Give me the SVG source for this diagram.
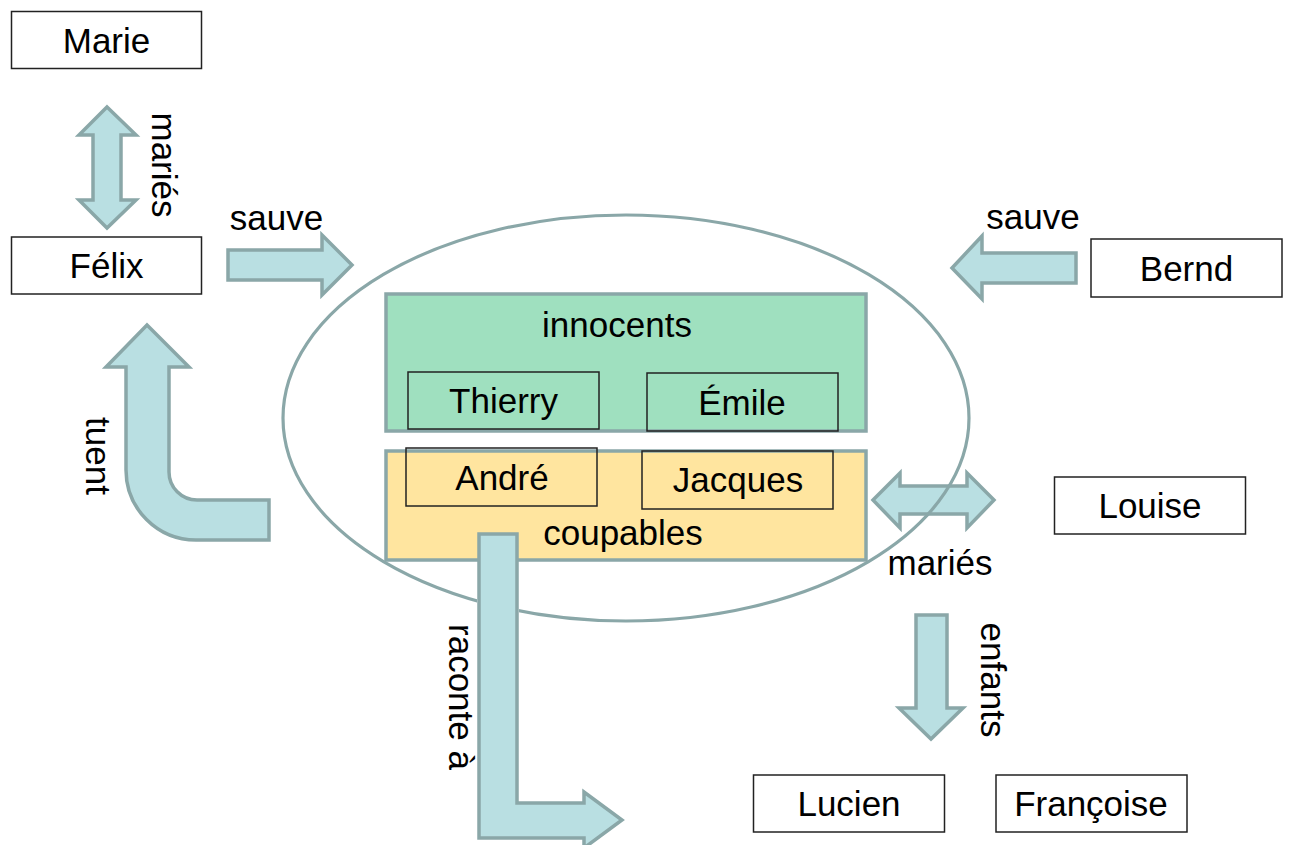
<svg xmlns="http://www.w3.org/2000/svg" width="1292" height="845" viewBox="0 0 1292 845">
<style>
text{font-family:"Liberation Sans",Arial,sans-serif;font-size:35px;fill:#000;text-anchor:middle}
.box{fill:#fff;stroke:#222;stroke-width:1.5}
.ibox{fill:none;stroke:#222;stroke-width:1.5}
.arr{fill:#b9dfe2;stroke:#8aa7a8;stroke-width:3.5;stroke-linejoin:miter}
.grp{stroke:#8aa7a8;stroke-width:3.5}
</style>
<defs>
<clipPath id="ellClip">
<rect x="0" y="0" width="477" height="845"/>
<rect x="519" y="0" width="773" height="845"/>
<rect x="0" y="0" width="1292" height="530"/>
</clipPath>
</defs>
<rect width="1292" height="845" fill="#fff"/>
<g id="innocents">
<rect class="grp" x="386" y="294" width="480" height="137" fill="#9fe0bf"/>
<text x="617" y="337">innocents</text>
</g>
<g id="coupables">
<rect class="grp" x="386" y="451" width="480" height="109" fill="#ffe59f"/>
<text x="623" y="545">coupables</text>
</g>
<g id="thierry"><rect class="ibox" x="408" y="372" width="191" height="57"/><text x="503.5" y="413">Thierry</text></g>
<g id="emile"><rect class="ibox" x="647" y="373" width="191" height="58"/><text x="742" y="414.5">Émile</text></g>
<g id="andre"><rect class="ibox" x="406" y="448" width="191" height="58"/><text x="502" y="489.5">André</text></g>
<g id="jacques"><rect class="ibox" x="642" y="451" width="191" height="58"/><text x="738" y="492">Jacques</text></g>
<g id="marie"><rect class="box" x="11.5" y="11.5" width="190" height="57"/><text x="106.5" y="52.5">Marie</text></g>
<g id="felix"><rect class="box" x="11.5" y="237" width="190" height="57"/><text x="106.5" y="277.5">Félix</text></g>
<g id="bernd"><rect class="box" x="1091" y="239" width="191" height="58"/><text x="1186.5" y="280.5">Bernd</text></g>
<g id="louise"><rect class="box" x="1054.5" y="477" width="191" height="57"/><text x="1150" y="518">Louise</text></g>
<g id="lucien"><rect class="box" x="753.5" y="775" width="191" height="57"/><text x="849" y="816">Lucien</text></g>
<g id="francoise"><rect class="box" x="996" y="775" width="191" height="57"/><text x="1091" y="816">Françoise</text></g>
<g id="connectors">
<path class="arr" d="M107,107 L136,135 L121,135 L121,200 L136,200 L107,228 L79,200 L93,200 L93,135 L79,135 Z"/>
<text transform="translate(152,165) rotate(90)" x="0" y="0">mariés</text>
<path class="arr" d="M228,250 L322,250 L322,235 L352,265 L322,295 L322,280 L228,280 Z"/>
<text x="276.5" y="230">sauve</text>
<path class="arr" d="M1076,253 L982,253 L982,236 L952,268 L982,299 L982,283 L1076,283 Z"/>
<text x="1033" y="229">sauve</text>
<path class="arr" d="M147,325 L189,367 L169,367 L169,472 A28,28 0 0 0 197,500 L269,500 L269,540 L196,540 A70,70 0 0 1 126,470 L126,367 L106,367 Z"/>
<text transform="translate(86,456) rotate(90)" x="0" y="0">tuent</text>
<path class="arr" d="M873,500 L900,473 L900,486 L967,486 L967,473 L994,500 L967,528 L967,514 L900,514 L900,528 Z"/>
<text x="940" y="575">mariés</text>
<path class="arr" d="M479,534 L517,534 L517,803 L584,803 L584,792 L622,820 L584,848 L584,838 L479,838 Z"/>
<text transform="translate(449,697) rotate(90)" x="0" y="0">raconte à</text>
<path class="arr" d="M916,615 L947,615 L947,708 L963,708 L931,739 L899,708 L916,708 Z"/>
<text transform="translate(981,680) rotate(90)" x="0" y="0">enfants</text>
</g>
<g id="ellipse">
<ellipse cx="626" cy="418" rx="343" ry="203" fill="none" stroke="#8aa7a8" stroke-width="3.2" clip-path="url(#ellClip)"/>
</g>
</svg>
